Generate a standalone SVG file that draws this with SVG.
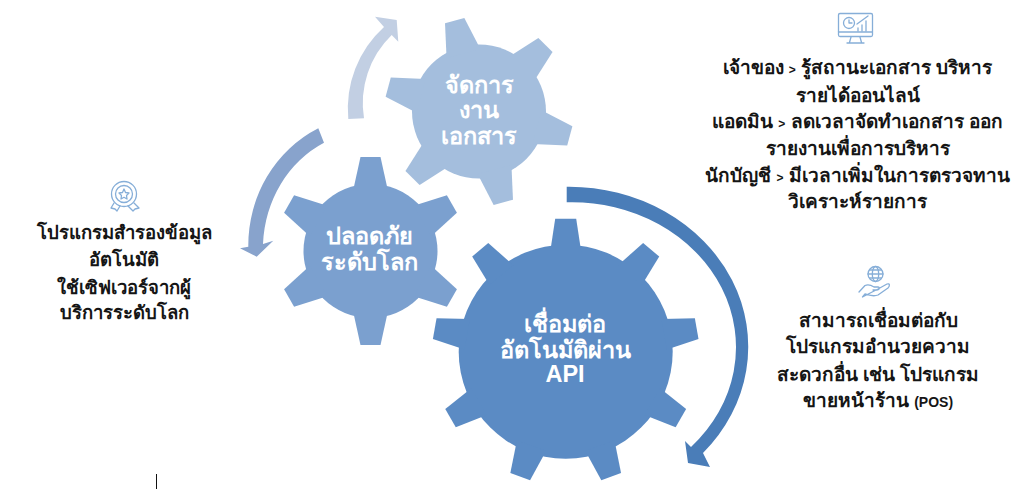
<svg xmlns="http://www.w3.org/2000/svg" width="1024" height="489" viewBox="0 0 1024 489">
<style>
text{font-family:"Liberation Sans","Noto Sans",Tahoma,sans-serif;font-weight:700;text-anchor:middle}
.d{font-size:19px;fill:#151515}
.l{font-size:18.5px}
.w{font-size:23.5px;fill:#fff}
.sm{font-size:12px}
.pos{font-size:14px}
.ic{fill:none;stroke:#86aed8;stroke-width:1.3;stroke-linecap:round;stroke-linejoin:round}
</style>
<defs>
<polygon id="tB" points="-15.500,-100 -10.500,-133 10.500,-133 15.500,-100"/>
<polygon id="tS" points="-17.500,-60 -10,-94 10,-94 17.500,-60"/>
</defs>
<rect width="1024" height="489" fill="#fff"/>
<g id="connectors">
<path id="arrow-large" fill="#4a7db8" d="M566.700 186.700A179 160 0 0 1 703 453L710 467L688 463L685 441L691 447A164 145 0 0 0 566.700 202.300Z"/>
<path id="arrow-mid" fill="#88a3cc" d="M318.300 128.300A124 130 0 0 0 248.300 246.700L240 248.300L256.700 256.700L273.300 240.700L263 244A108 118 0 0 1 324 142.700Z"/>
<path id="arrow-small" fill="#c2cfe3" d="M348.300 119A110 110 0 0 1 384 27L375 16.700L396.700 20L398.300 41.700L391.700 35A95 95 0 0 0 364 118.300Z"/>
</g>
<g id="gear-documents" fill="#a4bedd">
<g transform="translate(479 111.500)">
<circle r="67"/>
<use href="#tS" transform="rotate(-15)"/><use href="#tS" transform="rotate(45)"/><use href="#tS" transform="rotate(105)"/><use href="#tS" transform="rotate(165)"/><use href="#tS" transform="rotate(225)"/><use href="#tS" transform="rotate(285)"/>
</g>
<text class="w" x="479" y="93">จัดการ</text><text class="w" x="479" y="118">งาน</text><text class="w" x="479" y="144">เอกสาร</text>
</g>
<g id="gear-security" fill="#7ba0cf">
<g transform="translate(370.500 251)">
<circle r="67"/>
<use href="#tS"/><use href="#tS" transform="rotate(60)"/><use href="#tS" transform="rotate(120)"/><use href="#tS" transform="rotate(180)"/><use href="#tS" transform="rotate(240)"/><use href="#tS" transform="rotate(300)"/>
</g>
<text class="w" x="369" y="244">ปลอดภัย</text><text class="w" x="369" y="270">ระดับโลก</text>
</g>
<g id="gear-api" fill="#5b8bc4">
<g transform="translate(565.700 351.700)">
<circle r="107"/>
<use href="#tB"/><use href="#tB" transform="rotate(40)"/><use href="#tB" transform="rotate(80)"/><use href="#tB" transform="rotate(120)"/><use href="#tB" transform="rotate(160)"/><use href="#tB" transform="rotate(200)"/><use href="#tB" transform="rotate(240)"/><use href="#tB" transform="rotate(280)"/><use href="#tB" transform="rotate(320)"/>
</g>
<text class="w" x="565" y="332">เชื่อมต่อ</text><text class="w" x="565" y="358">อัตโนมัติผ่าน</text><text class="w" x="565" y="382">API</text>
</g>
<g id="note-roles">
<g class="ic"><rect x="838.500" y="13.500" width="34" height="23" rx="1.500"/><path d="M838.500 32H872.500M851 37L849.500 42.500M860 37L861.500 42.500M847 43H864"/><circle cx="849" cy="23" r="5.500"/><path d="M849 20V23H852M857 24L868 16M858 31V28M862 31V25M866 31V21"/></g>
<text class="d" x="857.500" y="74">เจ้าของ <tspan class="sm">&gt;</tspan> รู้สถานะเอกสาร บริหาร</text>
<text class="d" x="857.500" y="102">รายได้ออนไลน์</text>
<text class="d" x="857.500" y="128">แอดมิน <tspan class="sm">&gt;</tspan> ลดเวลาจัดทำเอกสาร ออก</text>
<text class="d" x="857.500" y="155">รายงานเพื่อการบริหาร</text>
<text class="d" x="857.500" y="182">นักบัญชี <tspan class="sm">&gt;</tspan> มีเวลาเพิ่มในการตรวจทาน</text>
<text class="d" x="857.500" y="208">วิเคราะห์รายการ</text>
</g>
<g id="note-connect">
<g class="ic"><circle cx="875.500" cy="274" r="7.500"/><ellipse cx="875.500" cy="274" rx="3.200" ry="7.500"/><path d="M868 274H883M869.500 270H881.500M869.500 278H881.500M859 292L865 285.500C868 284 871 285 874 287H878C880 287 880 290 877 290H873M878 289L887 284C890 283 890 286 888 288L878 295C873 297 869 295 865 294L862.500 297Z"/></g>
<text class="d" x="878" y="327">สามารถเชื่อมต่อกับ</text>
<text class="d" x="878" y="353">โปรแกรมอำนวยความ</text>
<text class="d" x="878" y="381">สะดวกอื่น เช่น โปรแกรม</text>
<text class="d" x="878" y="407">ขายหน้าร้าน <tspan class="pos">(POS)</tspan></text>
</g>
<g id="note-backup">
<g class="ic"><circle cx="124" cy="194" r="12.500"/><circle cx="124" cy="194" r="8.500"/><path d="M124 189L125.500 192.500L129 193L126.500 195.500L127 199L124 197.300L121 199L121.500 195.500L119 193L122.500 192.500ZM114 203L111 208L115 209L117 211L120 206M134 203L139 208L135 209L133 211L128 206"/></g>
<text class="d l" x="124" y="239">โปรแกรมสำรองข้อมูล</text>
<text class="d l" x="124" y="266">อัตโนมัติ</text>
<text class="d l" x="124" y="294">ใช้เซิฟเวอร์จากผู้</text>
<text class="d l" x="124" y="319">บริการระดับโลก</text>
</g>
<line id="stray-line" x1="156.500" y1="474" x2="156.500" y2="489" stroke="#111" stroke-width="1"/>
</svg>
